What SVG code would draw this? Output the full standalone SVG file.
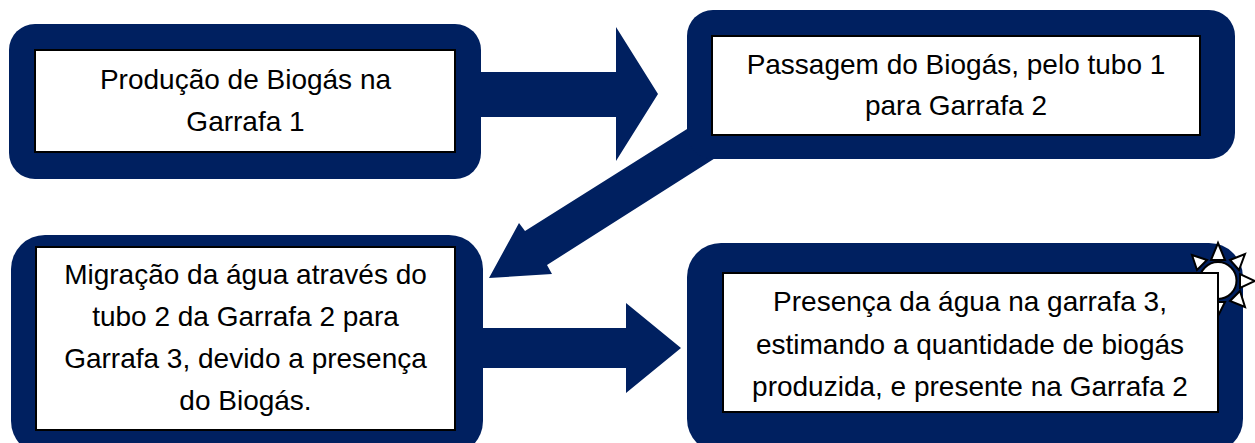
<svg xmlns="http://www.w3.org/2000/svg" width="1255" height="443" viewBox="0 0 1255 443">
<style>
.o{fill:#002060}
.i{fill:#fff;stroke:#000;stroke-width:2}
.s{fill:#fff;stroke:#000;stroke-width:2;stroke-linejoin:miter}
text{font-family:"Liberation Sans",Arial,sans-serif;font-size:28px;fill:#000;text-anchor:middle}
</style>
<rect width="1255" height="443" fill="#fff"/>
<g id="connectors">
<polygon class="o" points="470,72 616,72 616,27 658,94 616,161 616,117 470,117"/>
<polygon class="o" points="489,278 552,274 547,265 720,155 695,124 525,231 519,223"/>
<polygon class="o" points="470,328 626,328 626,303 681,348 626,393 626,368 470,368"/>
</g>
<g id="node1">
<rect class="o" x="9" y="24" width="472" height="155" rx="26"/>
<rect class="i" x="35" y="50" width="420" height="102"/>
<text x="245.500" y="89">Produção de Biogás na</text>
<text x="245.500" y="131">Garrafa 1</text>
</g>
<g id="node2">
<rect class="o" x="687" y="10" width="548" height="149" rx="26"/>
<rect class="i" x="712" y="36" width="488" height="99"/>
<text x="956" y="74">Passagem do Biogás, pelo tubo 1</text>
<text x="956" y="115">para Garrafa 2</text>
</g>
<g id="node3">
<rect class="o" x="11" y="235" width="472" height="220" rx="34"/>
<rect class="i" x="36" y="247" width="419" height="183"/>
<text x="245.500" y="284">Migração da água através do</text>
<text x="245.500" y="326">tubo 2 da Garrafa 2 para</text>
<text x="245.500" y="368">Garrafa 3, devido a presença</text>
<text x="245.500" y="410">do Biogás.</text>
</g>
<g id="node4">
<rect class="o" x="687" y="243" width="556" height="210" rx="34"/>
<g id="sun">
<polygon class="s" points="1218,243 1225,260 1211,260"/>
<polygon class="s" points="1245,254 1239,270 1230,260"/>
<polygon class="s" points="1255,281 1240,288 1240,274"/>
<polygon class="s" points="1245,307 1230,301 1240,291"/>
<polygon class="s" points="1192,255 1207,260 1197,270"/>
<polygon class="s" points="1218,316 1225,302 1211,302"/>
<circle class="s" cx="1218" cy="280.500" r="18.500"/>
</g>
<rect class="i" x="723" y="273" width="495" height="139"/>
<text x="970" y="311">Presença da água na garrafa 3,</text>
<text x="970" y="354">estimando a quantidade de biogás</text>
<text x="970" y="396">produzida, e presente na Garrafa 2</text>
</g>
</svg>
